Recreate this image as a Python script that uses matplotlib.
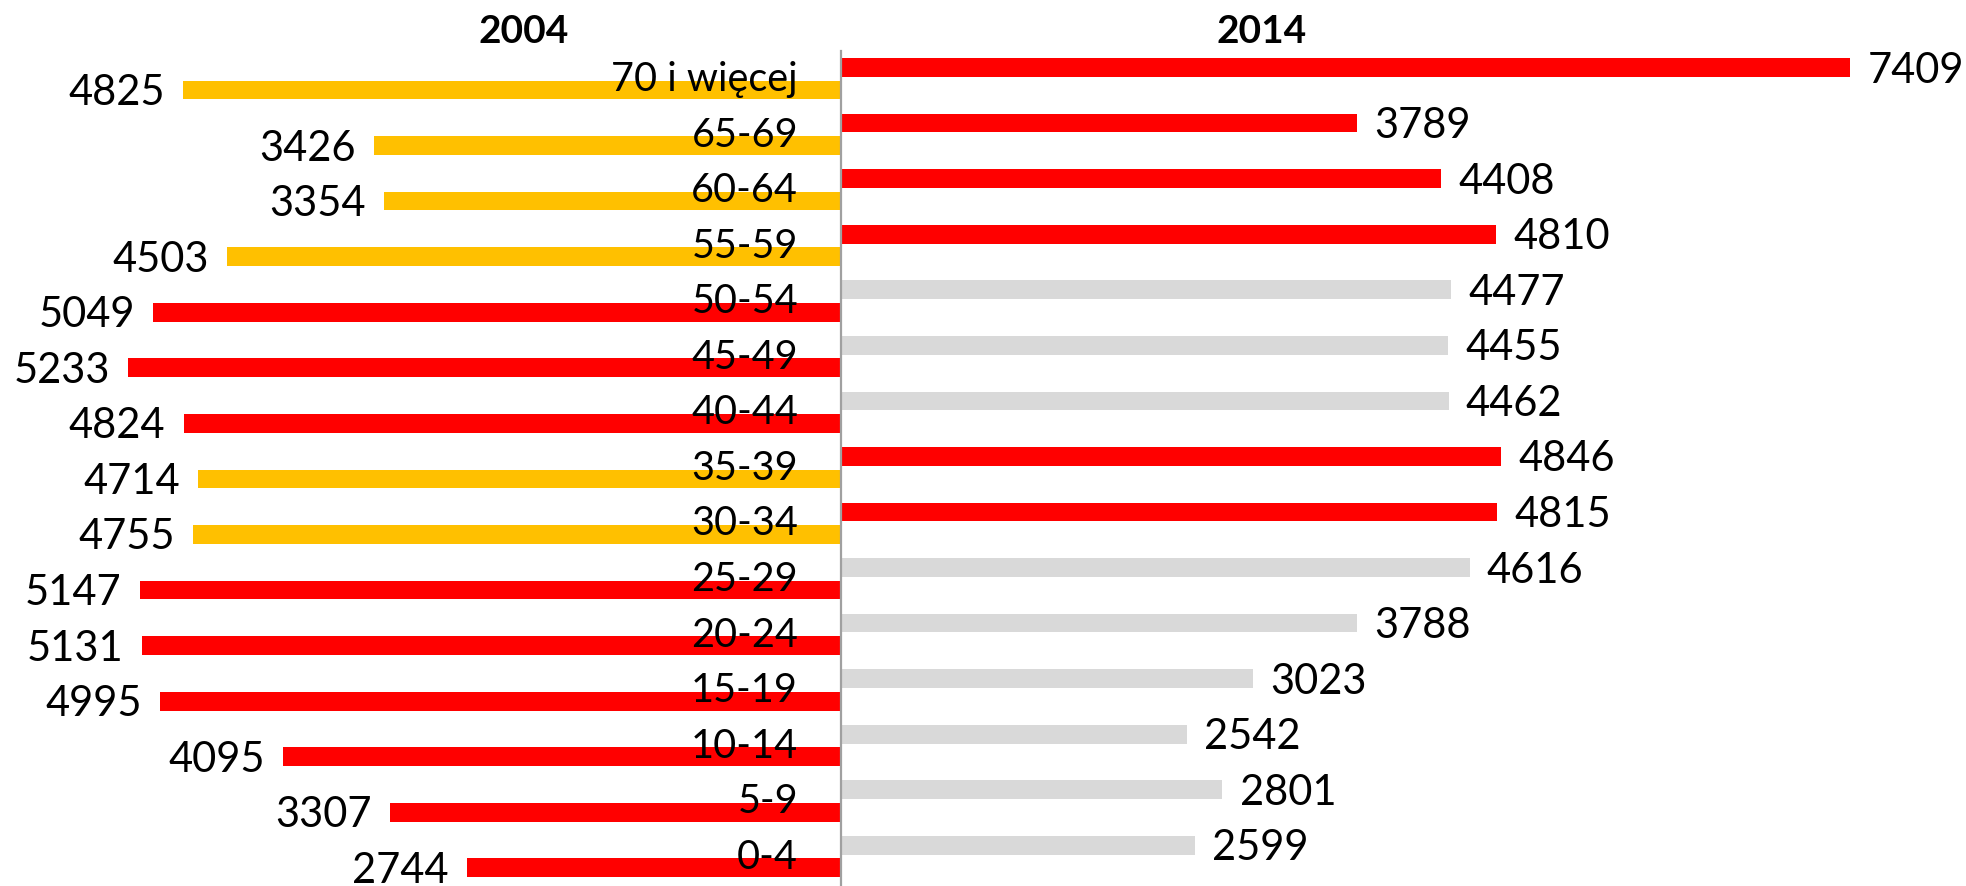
import matplotlib
matplotlib.use('Agg')
import matplotlib.pyplot as plt
import numpy as np

plt.rcParams['font.family'] = ['Lato', 'DejaVu Sans']

age_groups = ['70 i więcej', '65-69', '60-64', '55-59', '50-54', '45-49', '40-44',
              '35-39', '30-34', '25-29', '20-24', '15-19', '10-14', '5-9', '0-4']
values_2004 = [4825, 3426, 3354, 4503, 5049, 5233, 4824, 4714, 4755, 5147, 5131, 4995, 4095, 3307, 2744]
values_2014 = [7409, 3789, 4408, 4810, 4477, 4455, 4462, 4846, 4815, 4616, 3788, 3023, 2542, 2801, 2599]
colours_2004 = ['#FFC000'] * 4 + ['#FF0000'] * 3 + ['#FFC000'] * 2 + ['#FF0000'] * 6
colours_2014 = ['#FF0000'] * 4 + ['#D9D9D9'] * 3 + ['#FF0000'] * 2 + ['#D9D9D9'] * 6

fig = plt.figure(figsize=(19.66, 8.86), dpi=100)
ax = fig.add_axes([0, 0, 1, 1])

rows = np.arange(len(age_groups))
bar_h = 0.337
shift = 0.2025

ax.barh(rows + shift, [-v for v in values_2004], height=bar_h, color=colours_2004, linewidth=0)
ax.barh(rows - shift, values_2014, height=bar_h, color=colours_2014, linewidth=0)

# central axis line
ax.axvline(0, ymin=0, ymax=1 - (-0.505 + 1.4174) / (14.529 + 1.4174), color='#A0A0A0', lw=1.6)

fs = 30
for r, v in zip(rows, values_2004):
    ax.annotate(str(v), (-v, r + shift), xytext=(-13, -10.8), textcoords='offset points',
                ha='right', va='baseline', fontsize=fs)
for r, v in zip(rows, values_2014):
    ax.annotate(str(v), (v, r - shift), xytext=(12.5, -10.8), textcoords='offset points',
                ha='left', va='baseline', fontsize=fs)
for r, lab in zip(rows, age_groups):
    ax.annotate(lab, (0, r), xytext=(-30.7, -8.8), textcoords='offset points',
                ha='right', va='baseline', fontsize=28.5)

ax.text(-2328, -0.6435, '2004', ha='center', va='baseline', fontsize=28, fontweight='bold')
ax.text(3092, -0.6435, '2014', ha='center', va='baseline', fontsize=28, fontweight='bold')

ax.set_xlim(-6171, 8260)
ax.set_ylim(14.529, -1.4174)
ax.axis('off')

fig.savefig('out.png', dpi=100)
